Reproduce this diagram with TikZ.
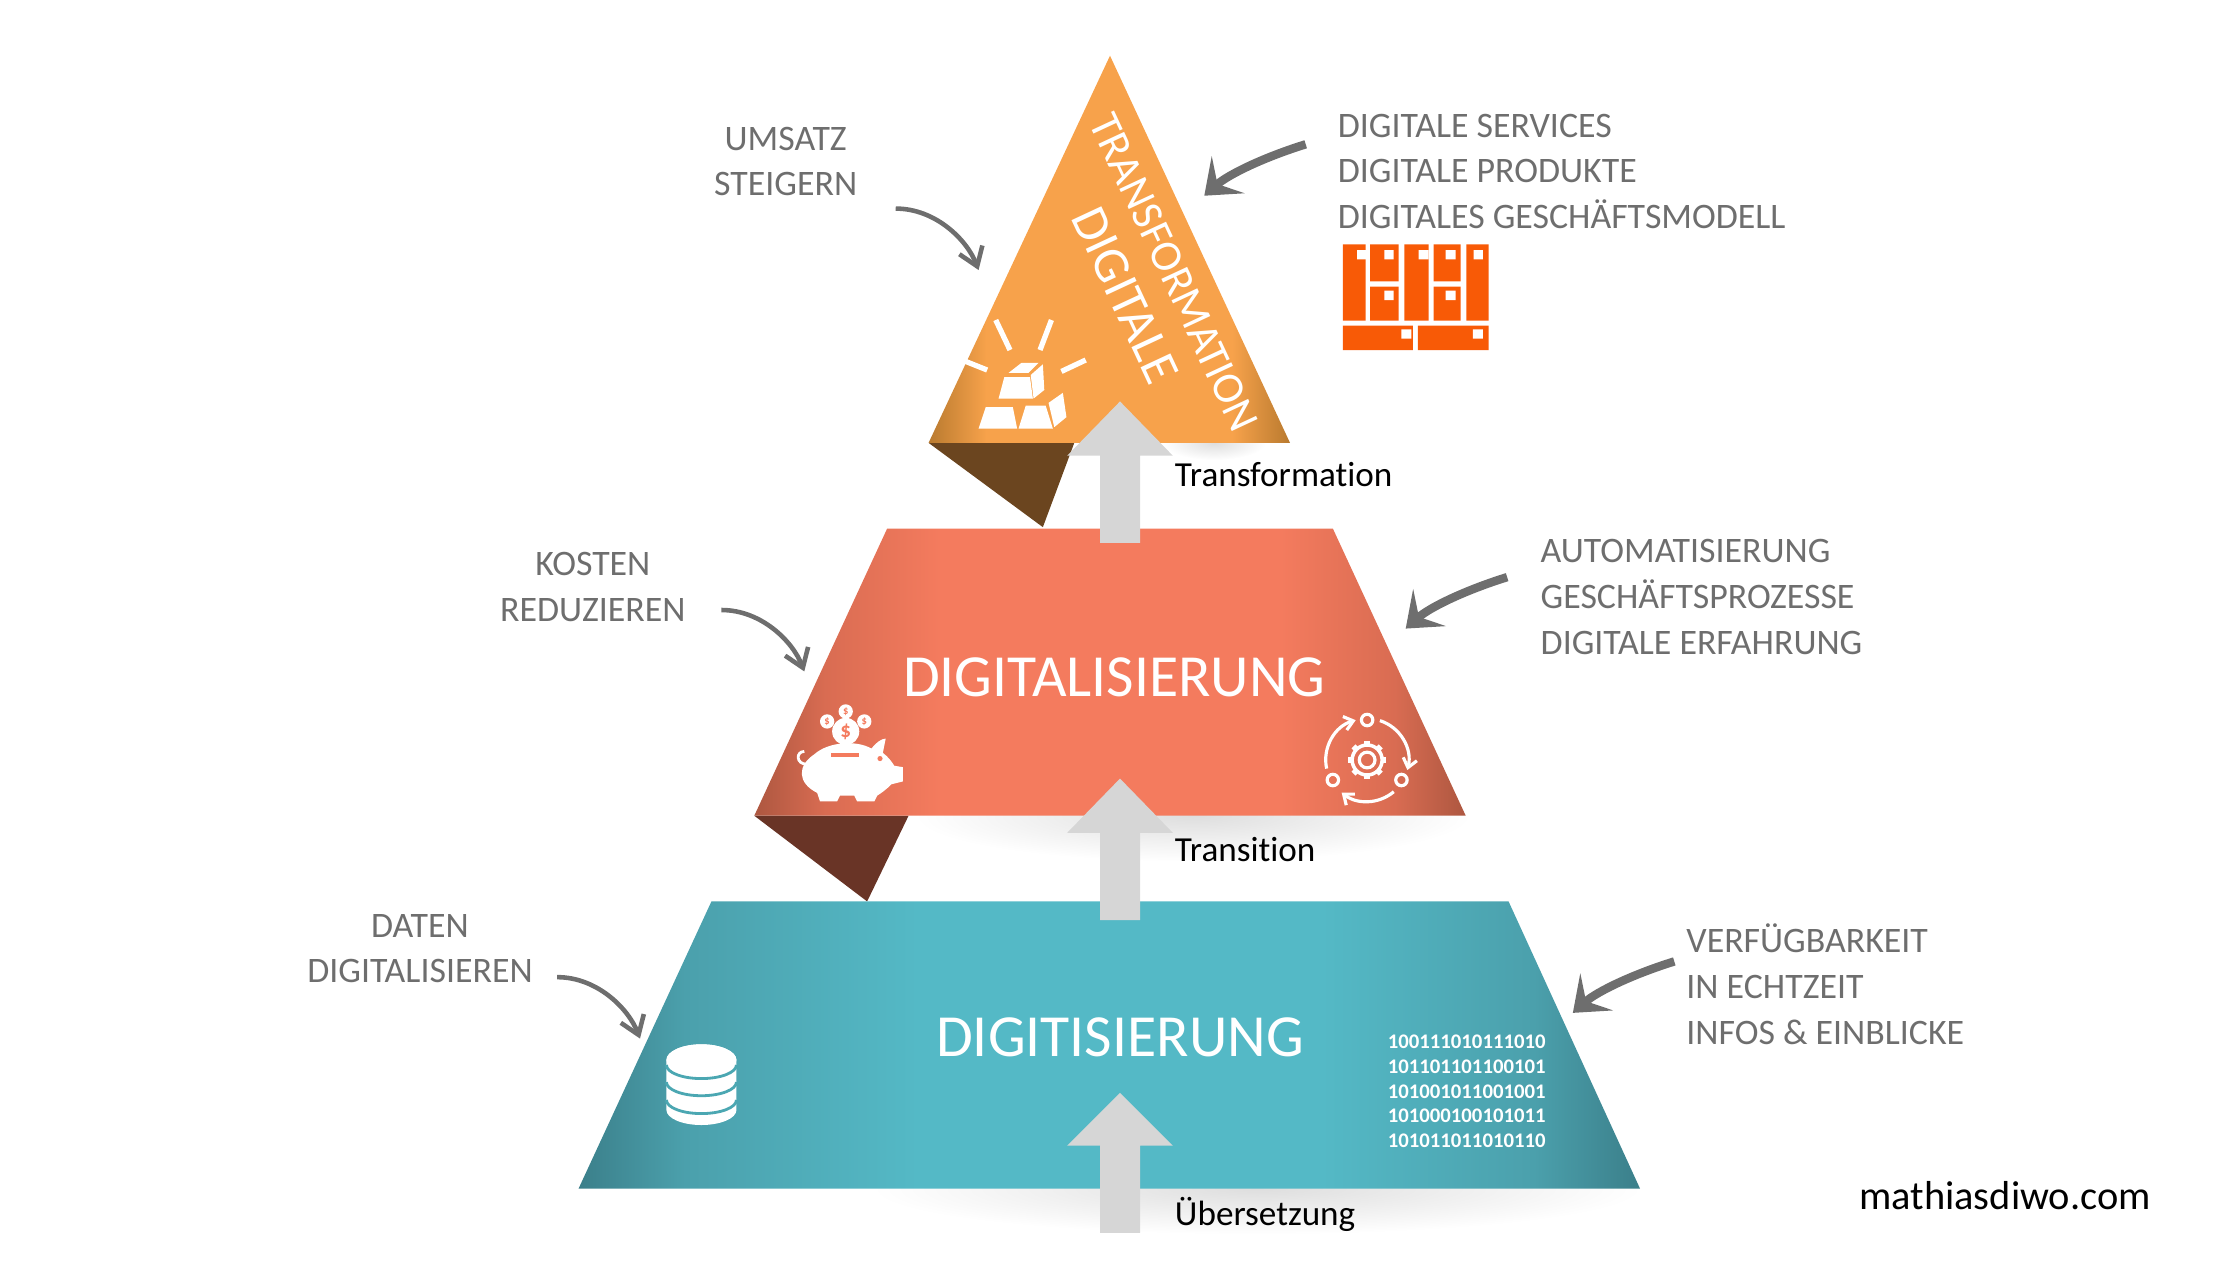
\documentclass[tikz,border=0pt]{standalone}
\usepackage{fontspec}
\setmainfont[Ligatures=NoCommon]{Carlito}
\usetikzlibrary{arrows.meta}
\definecolor{topbody}{HTML}{F7A24B}
\definecolor{topedge}{HTML}{B97A2F}
\definecolor{topfold}{HTML}{6B451F}
\definecolor{midbody}{HTML}{F47B5E}
\definecolor{midedge}{HTML}{AD5740}
\definecolor{midfold}{HTML}{693426}
\definecolor{lowbody}{HTML}{54B9C6}
\definecolor{lowedge}{HTML}{3B7F8A}
\definecolor{lowhalf}{HTML}{4BA0AC}
\definecolor{midhalf}{HTML}{D96C52}
\definecolor{notegray}{HTML}{6E6E6E}
\definecolor{liftgray}{HTML}{D6D6D6}
\definecolor{boxorange}{HTML}{F85A06}
\pgfdeclarehorizontalshading{topshade}{100bp}{color(0bp)=(topedge); color(25bp)=(topedge); color(33bp)=(topbody); color(67bp)=(topbody); color(75bp)=(topedge); color(100bp)=(topedge)}
\pgfdeclarehorizontalshading{midshade}{100bp}{color(0bp)=(midedge); color(25bp)=(midedge); color(30bp)=(midhalf); color(38bp)=(midbody); color(62bp)=(midbody); color(70bp)=(midhalf); color(75bp)=(midedge); color(100bp)=(midedge)}
\pgfdeclarehorizontalshading{lowshade}{100bp}{color(0bp)=(lowedge); color(25bp)=(lowedge); color(30bp)=(lowhalf); color(41bp)=(lowbody); color(60bp)=(lowbody); color(70bp)=(lowhalf); color(75bp)=(lowedge); color(100bp)=(lowedge)}
\tikzset{
  note/.style={font=\fontsize{10.2}{13}\selectfont,text=notegray,align=center,inner sep=0pt},
  noteleft/.style={note,align=left,anchor=west},
  stage/.style={font=\fontsize{10}{12}\selectfont,text=black,anchor=west,inner sep=0pt},
  title/.style={font=\fontsize{17}{21}\selectfont,text=white,align=center,inner sep=0pt},
  glow/.style={shading=radial,inner color=gray!26,outer color=white},
  liftarrow/.style={fill=liftgray},
  thinhook/.style={draw=notegray,line width=1.3pt,-{Straight Barb[length=5pt,width=7pt]}},
  thickhook/.style={draw=notegray,line width=2.4pt,-{Stealth[length=9pt,width=14pt,inset=4pt]}},
  ray/.style={draw=white,line width=1.5pt},
  cyclearc/.style={draw=white,line width=.9pt,-{Straight Barb[length=2.5pt,width=4pt]}}
}
\begin{document}
\begin{tikzpicture}[x=0.0142857cm,y=-0.0142857cm]
  \useasboundingbox (0,0) rectangle (1568,882);

  % Soft reflections
  \shade[glow] (850,310) ellipse (36 and 12);
  \shade[glow] (835,571) ellipse (195 and 32);
  \shade[glow] (880,832) ellipse (270 and 32);

  % Folds
  \fill[topfold] (650,310) -- (730,369) -- (752,310) -- cycle;
  \fill[midfold] (528,571) -- (607,631) -- (636,571) -- cycle;

  % Tiers
  \shade[shading=topshade] (777,39) -- (903,310) -- (650,310) -- cycle;
  \shade[shading=midshade] (621,370) -- (933,370) -- (1026,571) -- (528,571) -- cycle;
  \shade[shading=lowshade] (498,631) -- (1056,631) -- (1148,832) -- (405,832) -- cycle;

  % Upward arrows
  \fill[liftarrow] (784,281) -- (821,319) -- (798,319) -- (798,380) -- (770,380) -- (770,319) -- (747,319) -- cycle;
  \fill[liftarrow] (784,545) -- (821,583) -- (798,583) -- (798,644) -- (770,644) -- (770,583) -- (747,583) -- cycle;
  \fill[liftarrow] (784,765) -- (821,802) -- (798,802) -- (798,863) -- (770,863) -- (770,802) -- (747,802) -- cycle;

  % Tier titles
  \node[title,font=\fontsize{12.6}{15}\selectfont,rotate=-65] (ttop) at (804,199) {TRANSFORMATION\\[1pt]\fontsize{14.6}{15}\selectfont DIGITALE};
  \node[title] (tmid) at (780,474) {DIGITALISIERUNG};
  \node[title] (tlow) at (784,726) {DIGITISIERUNG};

  % Stage labels
  \node[stage] (s1) at (822,332) {Transformation};
  \node[stage] (s2) at (822,595) {Transition};
  \node[stage] (s3) at (822,850) {Übersetzung};
  \node[stage,font=\fontsize{11.5}{13}\selectfont] (site) at (1301,837) {mathiasdiwo.com};

  % Left notes
  \node[note] (n1) at (550,113) {UMSATZ\\STEIGERN};
  \node[note] (n2) at (415,411) {KOSTEN\\REDUZIEREN};
  \node[note] (n3) at (294,664) {DATEN\\DIGITALISIEREN};
  \coordinate (n1a) at (627,146);
  \coordinate (n1b) at (685,189);
  \coordinate (n2a) at (505,427);
  \coordinate (n2b) at (563,470);
  \coordinate (n3a) at (390,684);
  \coordinate (n3b) at (448,727);
  \draw[thinhook] (n1a) .. controls (655,146) and (677,168) .. (n1b);
  \draw[thinhook] (n2a) .. controls (533,427) and (555,449) .. (n2b);
  \draw[thinhook] (n3a) .. controls (418,684) and (440,706) .. (n3b);

  % Right notes
  \node[noteleft] (r1) at (936,120) {DIGITALE SERVICES\\DIGITALE PRODUKTE\\DIGITALES GESCHÄFTSMODELL};
  \node[noteleft] (r2) at (1078,418) {AUTOMATISIERUNG\\GESCHÄFTSPROZESSE\\DIGITALE ERFAHRUNG};
  \node[noteleft] (r3) at (1180,689) {VERFÜGBARKEIT\\IN ECHTZEIT\\INFOS \& EINBLICKE};
  \coordinate (r1a) at (914,101);
  \coordinate (r1b) at (843,137);
  \coordinate (r2a) at (1055,404);
  \coordinate (r2b) at (984,440);
  \coordinate (r3a) at (1172,673);
  \coordinate (r3b) at (1101,709);
  \draw[thickhook] (r1a) .. controls (885,110) and (860,122) .. (r1b);
  \draw[thickhook] (r2a) .. controls (1026,413) and (1001,425) .. (r2b);
  \draw[thickhook] (r3a) .. controls (1143,682) and (1118,694) .. (r3b);

  % Binary block
  \node[font=\fontsize{5.9}{7.05}\bfseries\selectfont,text=white,align=left,anchor=west,inner sep=0pt] (bits) at (971,764)
    {100111010111010\\101101101100101\\101001011001001\\101000100101011\\101011011010110};

  % Boxes
  \fill[boxorange] (940,171) rectangle (956,224.5) (959,171) rectangle (979,197) (959,200.7) rectangle (979,224.5)
    (983,171) rectangle (1000,224.5) (1003.5,171) rectangle (1022.5,197) (1003.5,200.7) rectangle (1022.5,224.5)
    (1026.5,171) rectangle (1042,224.5) (940,228) rectangle (989,245) (992.5,228) rectangle (1042,245);
  \fill[white] (950,175) rectangle (956.5,181.5) (969,175) rectangle (975.5,181.5) (969,203.5) rectangle (975.5,210)
    (993,175) rectangle (1000,181.5) (1012,175) rectangle (1019,181.5) (1012,203.5) rectangle (1019,210)
    (1031.5,175) rectangle (1038,181.5) (981,230.5) rectangle (988,237) (1031,230.5) rectangle (1038,237);

  % Gold bars
  \draw[ray] (697,224) -- (707,245);
  \draw[ray] (736,224) -- (728,245);
  \draw[ray] (760,252) -- (743,260);
  \draw[ray] (676,253) -- (691,259);
  \fill[white] (703,264) -- (721,264) -- (723,279) -- (699,279) -- cycle;
  \fill[white] (706,261) -- (715,254) -- (727,254) -- (720,261) -- cycle;
  \fill[white] (730,255) -- (731,273) -- (723.5,279) -- (721.5,262.5) -- cycle;
  \fill[white] (690,285) -- (709,285) -- (712,300) -- (685,300) -- cycle;
  \fill[white] (718,284) -- (732,284) -- (737,300) -- (713,300) -- cycle;
  \fill[white] (734,282) -- (744,275) -- (746.5,292) -- (738,299) -- cycle;

  % Piggy bank
  \fill[white] (570,528) .. controls (580,519) and (600,518) .. (610,524) .. controls (613,520) and (617,517) .. (620,517)
    -- (618,527) .. controls (622,530) and (624,533) .. (626,536) -- (632,537) -- (632,547) -- (624,549)
    .. controls (620,553) and (617,555) .. (614,557) -- (612,561) -- (600,561) -- (598,557) -- (588,557) -- (586,561) -- (574,561) -- (572,555)
    .. controls (558,548) and (558,536) .. (570,528) -- cycle;
  \draw[white,line width=.8pt] (565,535) .. controls (557,535) and (557,526) .. (563,526);
  \draw[midbody,line width=1pt] (582,528.5) -- (601,528.5);
  \fill[midbody] (616,531) circle (1.8);
  \foreach \cx/\cy/\rad/\fs in {592/512/9.5/6,579/505/5/3,592/498/5/3,605/505/5/3}{
    \fill[white] (\cx,\cy) circle (\rad);
    \node[text=midbody,font=\fontsize{\fs}{\fs}\bfseries\selectfont,inner sep=0pt] at (\cx,\cy) {\$};
  }

  % Gear cycle
  \foreach \ang in {0,45,...,315}
    \draw[white,line width=1.6pt] (957,532) ++(\ang:10) -- ++(\ang:3.5);
  \draw[white,line width=1pt] (957,532) circle (10.5);
  \draw[white,line width=.9pt] (957,532) circle (5.5);
  \draw[white,line width=.9pt] (957,504) circle (4) (933,546) circle (4) (981,546) circle (4);
  \draw[cyclearc] (957,532) ++(-72:29) arc[start angle=-72,end angle=14,radius=29];
  \draw[cyclearc] (957,532) ++(50:29) arc[start angle=50,end angle=128,radius=29];
  \draw[cyclearc] (957,532) ++(168:29) arc[start angle=168,end angle=254,radius=29];

  % Database
  \fill[white] (466.5,742) arc[start angle=180,end angle=360,x radius=24.5,y radius=11] -- (515.5,777)
    arc[start angle=0,end angle=180,x radius=24.5,y radius=10.5] -- cycle;
  \fill[white] (491,742) ellipse (24.5 and 11);
  \foreach \ly in {745.5,757.5,770}
    \draw[lowbody!90!black,line width=.8pt] (466.5,\ly) arc[start angle=180,end angle=0,x radius=24.5,y radius=9.5];
\end{tikzpicture}
\end{document}
